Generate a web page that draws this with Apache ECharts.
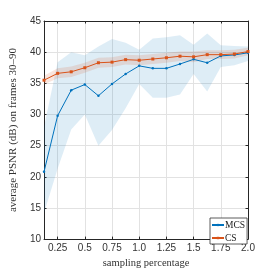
<!DOCTYPE html>
<html>
<head>
<meta charset="utf-8">
<script src="https://cdn.jsdelivr.net/npm/echarts@6/dist/echarts.min.js"></script>
<style>html,body{margin:0;padding:0;background:#fff}#c{width:274px;height:274px}</style>
</head>
<body>
<div id="c"></div>
<script>
const xs = [0.125,0.25,0.375,0.5,0.625,0.75,0.875,1.0,1.125,1.25,1.375,1.5,1.625,1.75,1.875,2.0];
const mcs   = [20.8,29.8,33.9,34.8,33.0,34.9,36.5,37.8,37.4,37.4,38.1,38.85,38.3,39.4,39.55,39.9];
const mcsUp = [28.0,38.4,40.0,39.5,40.9,42.1,41.5,40.4,42.2,42.4,42.7,41.2,43.0,41.1,41.0,40.9];
const mcsLo = [14.2,21.3,27.6,30.0,25.0,27.5,31.0,34.9,32.7,32.7,33.2,36.5,33.7,37.6,37.9,38.6];
const cs    = [35.5,36.6,36.85,37.5,38.3,38.4,38.8,38.7,38.9,39.1,39.35,39.25,39.6,39.6,39.7,40.1];
const csUp  = [36.2,37.4,37.7,38.3,39.1,39.2,39.6,39.5,39.7,39.9,40.1,40.1,40.3,40.3,40.4,40.7];
const csLo  = [34.8,35.8,36.0,36.7,37.5,37.6,38.0,37.9,38.1,38.3,38.6,38.4,38.9,38.9,39.0,39.5];
const xTicks = [0.25,0.5,0.75,1.0,1.25,1.5,1.75,2.0];
const xTickLabels = ['0.25','0.5','0.75','1.0','1.25','1.5','1.75','2.0'];

const BLUE = '#0072BD', ORANGE = '#D95319';
const axisColor = '#262626';
const serif = '"Liberation Serif","DejaVu Serif",serif';
const sans = '"Liberation Sans","DejaVu Sans",sans-serif';

const pairs = a => xs.map((x,i)=>[x,a[i]]);

function band(up, lo, color, opacity, z){
  return {
    type:'custom', coordinateSystem:'cartesian2d', xAxisIndex:0, yAxisIndex:0,
    data:[[xs[0], lo[0]]], silent:true, z:z, clip:true,
    renderItem:(params, api)=>{
      const pts = [];
      for(let i=0;i<xs.length;i++) pts.push(api.coord([xs[i], up[i]]));
      for(let i=xs.length-1;i>=0;i--) pts.push(api.coord([xs[i], lo[i]]));
      return {type:'polygon', shape:{points:pts}, style:{fill:color, opacity:opacity, stroke:null}};
    }
  };
}

function xAxisCfg(pos, showLabels){
  return {
    type:'value', position:pos, min:0.125, max:2.0,
    axisLine:{show:true,onZero:false,lineStyle:{color:axisColor,width:1}},
    axisTick:{show:true,inside:true,length:2.5,customValues:xTicks,lineStyle:{color:axisColor}},
    axisLabel:{show:showLabels,customValues:xTicks,color:'#333',fontFamily:sans,fontSize:10,margin:4,
      formatter:v=>{const i=xTicks.findIndex(t=>Math.abs(t-v)<1e-6);return i>=0?xTickLabels[i]:'';}},
    splitLine:{show:showLabels,lineStyle:{color:'#e2e2e2',width:1}},
    name: showLabels?'sampling percentage':'', nameLocation:'middle', nameGap:16,
    nameTextStyle:{fontFamily:serif,fontSize:10.5,color:'#333'}
  };
}
function yAxisCfg(pos, showLabels){
  return {
    type:'value', position:pos, min:10, max:45, interval:5,
    axisLine:{show:true,onZero:false,lineStyle:{color:axisColor,width:1}},
    axisTick:{show:true,inside:true,length:2.5,lineStyle:{color:axisColor}},
    axisLabel:{show:showLabels,color:'#333',fontFamily:sans,fontSize:10,margin:3},
    splitLine:{show:showLabels,lineStyle:{color:'#e2e2e2',width:1}},
    name: showLabels?'average PSNR (dB) on frames 30–90':'', nameLocation:'middle', nameGap:19,
    nameTextStyle:{fontFamily:serif,fontSize:11,color:'#333'}
  };
}

const chart = echarts.init(document.getElementById('c'), null, {renderer:'canvas'});
chart.setOption({
  animation:false,
  backgroundColor:'#fff',
  grid:{left:35,right:26,top:21,bottom:30,containLabel:false},
  xAxis:[xAxisCfg('bottom',true), xAxisCfg('top',false)],
  yAxis:[yAxisCfg('left',true), yAxisCfg('right',false)],
  legend:{
    data:[{name:'MCS'},{name:'CS'}], orient:'vertical', left:210, top:218,
    itemWidth:12, itemHeight:3, itemGap:3, padding:[2,2,1,1],
    borderColor:'#333', borderWidth:0.8, backgroundColor:'#fff', borderRadius:0,
    textStyle:{fontFamily:serif,fontSize:9.5,color:'#222',padding:[0,0,0,-4]}
  },
  series:[
    band(mcsUp, mcsLo, BLUE, 0.13, 1),
    band(csUp, csLo, ORANGE, 0.15, 2),
    {name:'MCS',type:'line',data:pairs(mcs),color:BLUE,symbol:'circle',symbolSize:2.5,showSymbol:true,
      lineStyle:{color:BLUE,width:1},itemStyle:{color:BLUE},z:3},
    {name:'CS',type:'line',data:pairs(cs),color:ORANGE,symbol:'rect',symbolSize:3,showSymbol:true,
      lineStyle:{color:ORANGE,width:1},itemStyle:{color:ORANGE},z:4}
  ]
});
</script>
</body>
</html>
